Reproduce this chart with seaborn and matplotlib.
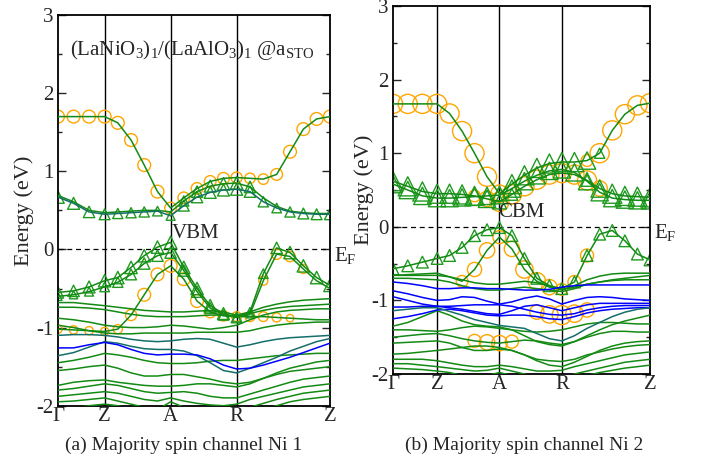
import pandas as pd
import seaborn as sns
import matplotlib
matplotlib.use("Agg")
import matplotlib.pyplot as plt
from matplotlib.ticker import MultipleLocator
from matplotlib.transforms import blended_transform_factory

# k path  Γ - Z - A - R - Z  (path length units)
kpath = [0.0, 0.167, 0.333, 0.5, 0.641, 0.783, 0.924, 1.066, 1.207, 1.348, 1.490,
         1.631, 1.773, 1.914, 2.057, 2.200, 2.343, 2.486, 2.629, 2.771, 2.914]
sym_pos = [0.0, 0.5, 1.207, 1.914, 2.914]
sym_labels = ["Γ", "Z", "A", "R", "Z"]

# ---------------- panel (a): Ni 1 ----------------
a_c1 = [1.70, 1.70, 1.70, 1.70, 1.62, 1.40, 1.08, 0.74, 0.53, 0.66, 0.78, 0.87, 0.91, 0.92, 0.91, 0.90, 0.96, 1.25, 1.54, 1.67, 1.70]
a_c1_orb = [1, 1, 1, 1, 1, 1, 1, 1, 0.8, 0.8, 0.8, 0.8, 0.8, 0.7, 0.6, 0.6, 0.8, 1, 1, 1, 1]
a_c2 = [0.67, 0.59, 0.48, 0.45, 0.46, 0.47, 0.48, 0.49, 0.43, 0.56, 0.67, 0.73, 0.76, 0.77, 0.74, 0.61, 0.53, 0.48, 0.46, 0.45, 0.45]
a_c2_tri = [1, 0.9, 0.8, 0.7, 0.6, 0.6, 0.6, 0.5, 0.4, 0.7, 0.8, 0.9, 0.9, 0.9, 0.8, 0.6, 0.5, 0.6, 0.7, 0.7, 0.7]
a_c3 = [0.69, 0.61, 0.50, 0.47, 0.48, 0.49, 0.50, 0.50, 0.48, 0.62, 0.74, 0.81, 0.84, 0.85, 0.80, 0.66, 0.55, 0.49, 0.47, 0.46, 0.46]
a_c3_tri = [0, 0, 0, 0, 0, 0, 0, 0, 0, 0.6, 0.8, 0.9, 1, 1, 0.8, 0, 0, 0, 0, 0, 0]
a_v1 = [-0.55, -0.53, -0.48, -0.40, -0.36, -0.23, -0.08, 0.03, 0.09, -0.23, -0.50, -0.72, -0.82, -0.87, -0.80, -0.31, 0.02, -0.04, -0.21, -0.36, -0.46]
a_v1_tri = [0.8, 0.8, 0.9, 1, 1, 1, 1, 1, 1, 1, 1, 1, 0.9, 0.7, 0.4, 0.5, 0.8, 1, 1, 1, 1]
a_v3 = [-0.60, -0.58, -0.54, -0.48, -0.42, -0.32, -0.18, -0.08, -0.04, -0.27, -0.54, -0.75, -0.84, -0.87, -0.83, -0.40, -0.06, -0.09, -0.25, -0.40, -0.50]
a_v3_tri = [0.3, 0.3, 0.4, 0.5, 0.6, 0.7, 0.8, 0.8, 0.8, 0.8, 0.8, 0.7, 0.6, 0.4, 0.2, 0, 0, 0, 0, 0, 0]
a_v3_orb = [0, 0, 0, 0, 0, 0, 0, 0, 0, 0, 0, 0, 0, 0, 0, 0.4, 0.6, 0.6, 0.4, 0, 0]
a_v2 = [-1.02, -1.03, -1.04, -1.05, -1.02, -0.84, -0.58, -0.32, -0.21, -0.38, -0.66, -0.80, -0.85, -0.86, -0.86, -0.86, -0.87, -0.88, -0.89, -0.90, -0.90]
a_v2_orb = [0.3, 0.3, 0.3, 0.3, 0.4, 0.7, 1, 1, 1, 1, 1, 0.8, 0.6, 0.5, 0.5, 0.5, 0.4, 0.2, 0, 0, 0]
a_blue = [-1.26, -1.26, -1.22, -1.19, -1.22, -1.28, -1.33, -1.35, -1.34, -1.34, -1.35, -1.40, -1.48, -1.53, -1.52, -1.48, -1.43, -1.38, -1.32, -1.26, -1.20]

# remaining valence bands of panel (a)
a_bg = [
    [-0.68, -0.68, -0.70, -0.72, -0.74, -0.76, -0.78, -0.79, -0.80, -0.80, -0.79, -0.78, -0.80, -0.84, -0.80, -0.74, -0.70, -0.67, -0.65, -0.64, -0.63],
    [-0.74, -0.74, -0.75, -0.77, -0.80, -0.83, -0.85, -0.86, -0.86, -0.86, -0.85, -0.84, -0.84, -0.85, -0.82, -0.78, -0.75, -0.73, -0.72, -0.71, -0.70],
    [-0.88, -0.90, -0.93, -0.97, -0.99, -1.00, -1.00, -0.99, -0.97, -0.98, -1.00, -1.02, -1.00, -0.97, -0.90, -0.84, -0.80, -0.78, -0.77, -0.76, -0.76],
    [-0.97, -1.00, -1.04, -1.07, -1.08, -1.08, -1.07, -1.07, -1.07, -1.07, -1.06, -1.06, -1.06, -1.06, -1.04, -1.00, -0.97, -0.95, -0.94, -0.93, -0.93],
    [-1.10, -1.09, -1.09, -1.10, -1.12, -1.15, -1.17, -1.18, -1.17, -1.15, -1.14, -1.15, -1.20, -1.25, -1.22, -1.18, -1.15, -1.13, -1.12, -1.11, -1.10],
    [-1.36, -1.32, -1.25, -1.18, -1.20, -1.24, -1.27, -1.28, -1.28, -1.30, -1.36, -1.45, -1.55, -1.58, -1.52, -1.45, -1.38, -1.30, -1.24, -1.18, -1.14],
    [-1.45, -1.42, -1.38, -1.33, -1.35, -1.38, -1.42, -1.45, -1.46, -1.46, -1.45, -1.43, -1.42, -1.42, -1.40, -1.38, -1.36, -1.35, -1.34, -1.33, -1.33],
    [-1.55, -1.53, -1.50, -1.48, -1.52, -1.58, -1.62, -1.62, -1.60, -1.60, -1.63, -1.66, -1.70, -1.72, -1.70, -1.65, -1.58, -1.52, -1.48, -1.44, -1.42],
    [-1.74, -1.70, -1.68, -1.67, -1.70, -1.72, -1.74, -1.75, -1.75, -1.74, -1.72, -1.72, -1.74, -1.76, -1.72, -1.65, -1.60, -1.56, -1.54, -1.52, -1.50],
    [-1.80, -1.78, -1.75, -1.72, -1.74, -1.78, -1.82, -1.84, -1.83, -1.82, -1.84, -1.88, -1.90, -1.90, -1.85, -1.80, -1.75, -1.70, -1.66, -1.64, -1.62],
    [-1.88, -1.86, -1.84, -1.82, -1.84, -1.88, -1.92, -1.94, -1.90, -1.94, -1.97, -1.99, -2.00, -1.98, -1.92, -1.88, -1.84, -1.80, -1.76, -1.74, -1.72],
    [-1.95, -1.94, -1.92, -1.90, -1.94, -1.98, -2.02, -2.05, -2.08, -2.08, -2.05, -2.04, -2.05, -2.06, -2.02, -1.97, -1.92, -1.88, -1.84, -1.82, -1.80],
    [-2.05, -2.03, -2.00, -1.98, -2.00, -2.05, -2.10, -2.05, -1.95, -2.02, -2.10, -2.15, -2.15, -2.15, -2.10, -2.05, -2.00, -1.95, -1.92, -1.90, -1.88],
]
a_bg_tone = ["g", "g", "g", "g", "t", "t", "g", "g", "g", "g", "g", "g", "g"]

# ---------------- panel (b): Ni 2 ----------------
b_c1 = [1.67, 1.67, 1.67, 1.67, 1.54, 1.30, 1.00, 0.68, 0.45, 0.58, 0.70, 0.80, 0.86, 0.88, 0.88, 0.90, 1.00, 1.31, 1.53, 1.65, 1.68]
b_c1_orb = [1, 1, 1, 1, 1, 1, 1, 1, 0.8, 0, 0, 0, 0, 0, 0, 0.3, 1, 1, 1, 1, 1]
b_c1_tri = [0, 0, 0, 0, 0, 0, 0, 0, 0.5, 1, 1, 1, 1, 1, 1, 0.8, 0.2, 0, 0, 0, 0]
b_c2 = [0.62, 0.55, 0.48, 0.45, 0.45, 0.44, 0.42, 0.38, 0.34, 0.44, 0.55, 0.64, 0.71, 0.73, 0.71, 0.63, 0.52, 0.45, 0.42, 0.41, 0.40]
b_c2_orb = [0, 0, 0, 0, 0, 0, 0.3, 0.6, 1, 1, 1, 1, 1, 1, 1, 1, 0.6, 0, 0, 0, 0]
b_c2_tri = [1, 1, 1, 1, 1, 1, 1, 0.8, 0.5, 0.3, 0, 0, 0, 0, 0, 0.3, 0.8, 1, 1, 1, 1]
b_c3 = [0.58, 0.50, 0.42, 0.39, 0.39, 0.40, 0.41, 0.42, 0.43, 0.52, 0.62, 0.70, 0.76, 0.78, 0.74, 0.62, 0.47, 0.39, 0.37, 0.36, 0.36]
b_c3_tri = [0.8, 0.8, 0.8, 0.8, 0.8, 0.8, 0.8, 0.8, 0.8, 0.8, 0.8, 0.8, 0.8, 0.8, 0.8, 0.8, 0.8, 0.8, 0.8, 0.8, 0.8]
b_v1 = [-0.57, -0.53, -0.48, -0.43, -0.39, -0.28, -0.12, -0.04, -0.01, -0.12, -0.43, -0.70, -0.80, -0.84, -0.75, -0.39, -0.10, -0.05, -0.19, -0.37, -0.45]
b_v1_tri = [0.3, 0.3, 0.3, 0.3, 0.3, 0.3, 0.3, 0.3, 0.3, 0.3, 0.3, 0.3, 0.3, 0.3, 0.3, 0.3, 0.3, 0.3, 0.3, 0.3, 0.3]
b_v1_orb = [0, 0, 0, 0, 0, 0, 0, 0, 0, 0, 0, 0, 0, 0, 0.4, 0.4, 0, 0, 0, 0, 0]
b_v2 = [-0.66, -0.65, -0.64, -0.63, -0.68, -0.74, -0.58, -0.32, -0.14, -0.30, -0.58, -0.74, -0.82, -0.85, -0.82, -0.78, -0.75, -0.72, -0.70, -0.68, -0.66]
b_v2_orb = [0, 0, 0, 0, 0, 0.3, 0.5, 0.6, 0.4, 0.6, 0.8, 0.8, 0.6, 0.3, 0, 0, 0, 0, 0, 0, 0]
b_bowl = [-1.09, -1.09, -1.08, -1.08, -1.08, -1.07, -1.06, -1.06, -1.06, -1.08, -1.12, -1.16, -1.19, -1.20, -1.18, -1.13, -1.10, -1.08, -1.07, -1.07, -1.07]
b_bowl_orb = [0, 0, 0, 0, 0, 0, 0, 0, 0, 0, 0, 0.5, 0.8, 1, 0.8, 0.5, 0, 0, 0, 0, 0]
b_lowA = [-1.50, -1.48, -1.46, -1.45, -1.48, -1.52, -1.55, -1.57, -1.58, -1.56, -1.54, -1.55, -1.58, -1.60, -1.56, -1.50, -1.45, -1.42, -1.42, -1.43, -1.43]
b_lowA_orb = [0, 0, 0, 0, 0, 0, 0.4, 0.6, 0.6, 0.4, 0, 0, 0, 0, 0, 0, 0, 0, 0, 0, 0]

b_bg = [
    [-0.66, -0.66, -0.66, -0.66, -0.68, -0.72, -0.76, -0.78, -0.78, -0.76, -0.74, -0.76, -0.80, -0.86, -0.80, -0.72, -0.67, -0.64, -0.63, -0.63, -0.63],
    [-0.70, -0.70, -0.71, -0.72, -0.75, -0.80, -0.84, -0.86, -0.86, -0.84, -0.82, -0.84, -0.86, -0.88, -0.84, -0.78, -0.75, -0.73, -0.72, -0.72, -0.72],
    [-0.75, -0.77, -0.80, -0.84, -0.84, -0.83, -0.83, -0.84, -0.84, -0.85, -0.86, -0.86, -0.85, -0.82, -0.80, -0.79, -0.79, -0.79, -0.79, -0.79, -0.79],
    [-0.87, -0.91, -0.96, -1.00, -0.99, -0.95, -0.96, -1.01, -1.05, -1.02, -0.97, -0.94, -0.98, -1.05, -1.00, -0.96, -0.95, -0.96, -0.98, -0.99, -1.00],
    [-0.95, -1.00, -1.05, -1.08, -1.10, -1.12, -1.15, -1.18, -1.19, -1.14, -1.08, -1.06, -1.10, -1.14, -1.10, -1.06, -1.04, -1.04, -1.04, -1.04, -1.04],
    [-1.25, -1.22, -1.18, -1.13, -1.12, -1.14, -1.17, -1.20, -1.21, -1.20, -1.20, -1.22, -1.25, -1.26, -1.22, -1.17, -1.14, -1.12, -1.11, -1.10, -1.10],
    [-1.14, -1.12, -1.10, -1.10, -1.15, -1.20, -1.26, -1.30, -1.34, -1.36, -1.38, -1.45, -1.52, -1.55, -1.48, -1.38, -1.30, -1.22, -1.16, -1.12, -1.10],
    [-1.35, -1.30, -1.22, -1.14, -1.20, -1.28, -1.33, -1.35, -1.36, -1.40, -1.48, -1.56, -1.60, -1.62, -1.56, -1.48, -1.40, -1.33, -1.28, -1.24, -1.20],
    [-1.40, -1.40, -1.41, -1.42, -1.40, -1.37, -1.35, -1.36, -1.38, -1.40, -1.42, -1.43, -1.42, -1.40, -1.36, -1.32, -1.30, -1.30, -1.31, -1.32, -1.32],
    [-1.58, -1.57, -1.56, -1.55, -1.58, -1.64, -1.68, -1.68, -1.66, -1.68, -1.74, -1.82, -1.88, -1.90, -1.84, -1.76, -1.68, -1.62, -1.58, -1.56, -1.55],
    [-1.73, -1.72, -1.70, -1.68, -1.66, -1.64, -1.62, -1.62, -1.64, -1.68, -1.74, -1.80, -1.82, -1.83, -1.80, -1.74, -1.70, -1.66, -1.63, -1.61, -1.60],
    [-1.80, -1.80, -1.80, -1.82, -1.85, -1.88, -1.90, -1.90, -1.88, -1.90, -1.93, -1.96, -1.96, -1.95, -1.90, -1.86, -1.82, -1.78, -1.74, -1.72, -1.70],
    [-1.86, -1.86, -1.88, -1.90, -1.92, -1.94, -1.96, -1.95, -1.92, -1.96, -2.00, -2.04, -2.05, -2.05, -2.00, -1.96, -1.92, -1.88, -1.84, -1.82, -1.80],
    [-1.92, -1.93, -1.94, -1.96, -1.98, -2.02, -2.05, -2.02, -1.98, -2.02, -2.06, -2.08, -2.08, -2.08, -2.06, -2.02, -1.98, -1.95, -1.92, -1.90, -1.88],
]
b_bg_tone = ["g", "g", "b", "b", "b", "b", "t", "g", "g", "g", "g", "g", "g", "g"]

tone_colors = {"g": "#138a13", "b": "#0000ff", "t": "#146e6a"}
ORANGE = "#ffa500"
GREEN = "#1e9a1e"


def band(E, tone="g", orb=None, tri=None):
    zeros = [0] * len(E)
    return {"E": E, "tone": tone, "orb": orb or zeros, "tri": tri or zeros}


def frame(bands):
    rows = []
    for i, b in enumerate(bands):
        for j, k in enumerate(kpath):
            rows.append({"band": i, "k": k, "E": b["E"][j], "tone": b["tone"],
                         "orb": b["orb"][j], "tri": b["tri"][j]})
    return pd.DataFrame(rows)


a_bands = [band(a_c1, "g", orb=a_c1_orb), band(a_c2, "t", tri=a_c2_tri),
           band(a_c3, "g", tri=a_c3_tri), band(a_v1, "g", tri=a_v1_tri),
           band(a_v3, "g", orb=a_v3_orb, tri=a_v3_tri), band(a_v2, "g", orb=a_v2_orb),
           band(a_blue, "b")] + [band(e, t) for e, t in zip(a_bg, a_bg_tone)]
b_bands = [band(b_c1, "g", orb=b_c1_orb, tri=b_c1_tri), band(b_c2, "g", orb=b_c2_orb, tri=b_c2_tri),
           band(b_c3, "g", tri=b_c3_tri), band(b_v1, "g", orb=b_v1_orb, tri=b_v1_tri),
           band(b_v2, "g", orb=b_v2_orb), band(b_bowl, "b", orb=b_bowl_orb),
           band(b_lowA, "g", orb=b_lowA_orb)] + [band(e, t) for e, t in zip(b_bg, b_bg_tone)]

sns.set_style("ticks")
plt.rcParams["font.family"] = ["Liberation Serif", "DejaVu Serif"]
plt.rcParams["mathtext.fontset"] = "custom"
plt.rcParams["mathtext.rm"] = "Liberation Serif"
plt.rcParams["mathtext.it"] = "Liberation Serif:italic"
plt.rcParams["axes.unicode_minus"] = False

fig = plt.figure(figsize=(7.07, 4.65), dpi=100)
ax_a = fig.add_axes([0.0820, 0.1275, 0.3847, 0.8402])
ax_b = fig.add_axes([0.5559, 0.1957, 0.3635, 0.7914])


def draw(ax, bands, orb_sizes, tri_sizes):
    df = frame(bands)
    sns.lineplot(data=df, x="k", y="E", units="band", estimator=None, hue="tone",
                 palette=tone_colors, sort=False, linewidth=1.1, legend=False, ax=ax, zorder=3)
    d_o = df[df["orb"] > 0]
    sns.scatterplot(data=d_o, x="k", y="E", size="orb", sizes=orb_sizes, size_norm=(0, 1),
                    marker="o", facecolor="none", edgecolor=ORANGE, linewidth=1.0,
                    legend=False, ax=ax, zorder=2)
    d_t = df[df["tri"] > 0]
    sns.scatterplot(data=d_t, x="k", y="E", size="tri", sizes=tri_sizes, size_norm=(0, 1),
                    marker="^", facecolor="none", edgecolor=GREEN, linewidth=1.0,
                    legend=False, ax=ax, zorder=2.5)

    for p in sym_pos[1:-1]:
        ax.axvline(p, color="black", lw=1.0, zorder=1)
    ax.axhline(0, color="black", lw=0.9, ls=(0, (4, 3)), zorder=1)
    ax.set_xlim(0, 2.914)
    ax.set_ylim(-2, 3)
    ax.set_xticks(sym_pos)
    ax.set_xticklabels(sym_labels, fontsize=15)
    ax.set_yticks([-2, -1, 0, 1, 2, 3])
    ax.set_yticklabels(["-2", "-1", "0", "1", "2", "3"], fontsize=15)
    ax.yaxis.set_minor_locator(MultipleLocator(0.5))
    ax.tick_params(axis="y", which="both", direction="in", left=True, right=True)
    ax.tick_params(axis="y", which="major", length=6, width=1.0, pad=3)
    ax.tick_params(axis="y", which="minor", length=3, width=1.0)
    ax.tick_params(axis="x", length=0, pad=1)
    ax.set_xlabel("")
    ax.set_ylabel("Energy (eV)", fontsize=16, labelpad=2)
    for s in ax.spines.values():
        s.set_linewidth(1.3)
        s.set_color("black")
    tr = blended_transform_factory(ax.transAxes, ax.transData)
    ax.text(1.015, 0.06, r"E$_\mathrm{F}$", transform=tr, fontsize=15, ha="left", va="top")


draw(ax_a, a_bands, (15, 85), (15, 80))
draw(ax_b, b_bands, (20, 190), (20, 190))
ax_b.set_ylabel("Energy (eV)", fontsize=16, labelpad=-2)

ax_a.text(1.44, 2.55, r"(LaNiO$_3$)$_1$/(LaAlO$_3$)$_1$ @a$_\mathrm{STO}$", fontsize=15,
          ha="center", va="center")
ax_a.text(1.22, 0.21, "VBM", fontsize=15, ha="left", va="center")
ax_b.text(1.19, 0.19, "CBM", fontsize=15, ha="left", va="center")

fig.text(0.26, 0.043, "(a) Majority spin channel Ni 1", fontsize=14, ha="center", va="center")
fig.text(0.741, 0.043, "(b) Majority spin channel Ni 2", fontsize=14, ha="center", va="center")

fig.savefig("out.png", dpi=100)
